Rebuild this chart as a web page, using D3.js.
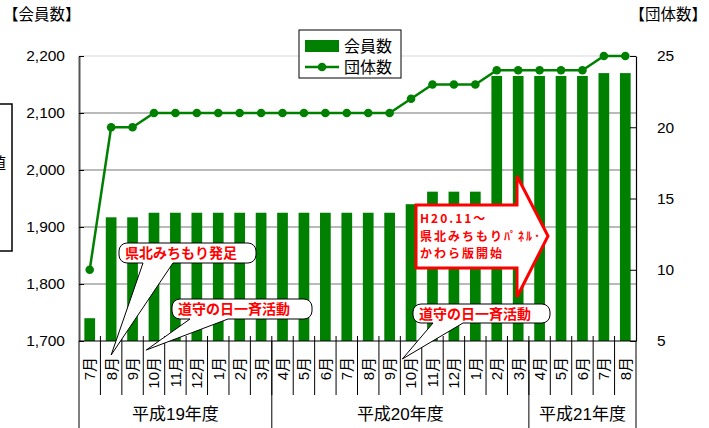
<!DOCTYPE html>
<html>
<head>
<meta charset="utf-8">
<script src="https://cdn.jsdelivr.net/npm/d3@7"></script>
<style>
  body { margin: 0; background: #fff; }
  svg { display: block; font-family: "Liberation Sans", "Noto Sans CJK JP", sans-serif; }
</style>
</head>
<body>
<div id="chart"></div>
<script>
// month labels (H19.7 - H21.8)
const months = ['7月', '8月', '9月', '10月', '11月', '12月', '1月', '2月', '3月',
  '4月', '5月', '6月', '7月', '8月', '9月', '10月', '11月', '12月', '1月', '2月', '3月',
  '4月', '5月', '6月', '7月', '8月'];
// 会員数 (left axis)
const members = [1740, 1917, 1917, 1925, 1925, 1925, 1925, 1925, 1925,
  1925, 1925, 1925, 1925, 1925, 1925, 1940, 1962, 1962, 1962, 2165, 2165,
  2165, 2165, 2165, 2170, 2170];
// 団体数 (right axis)
const groups = [10, 20, 20, 21, 21, 21, 21, 21, 21,
  21, 21, 21, 21, 21, 21, 22, 23, 23, 23, 24, 24,
  24, 24, 24, 25, 25];
const fyLabels = ['平成19年度', '平成20年度', '平成21年度'];
const fyMonths = [9, 12, 5];
const leftTicks = [1700, 1800, 1900, 2000, 2100, 2200];
const rightTicks = [5, 10, 15, 20, 25];

const W = 709, H = 428;
const m = {left: 79, right: 636, top: 56, bottom: 341};
const green = '#008000';

const svg = d3.select('#chart').append('svg')
  .attr('width', W).attr('height', H);

const idx = d3.range(months.length);
const x = d3.scaleBand().domain(idx).range([m.left, m.right]).padding(0);
const yL = d3.scaleLinear().domain([1700, 2200]).range([m.bottom, m.top]);
const yR = d3.scaleLinear().domain([5, 25]).range([m.bottom, m.top]);
const cx = i => x(i) + x.bandwidth() / 2;

// gridlines
svg.append('g').selectAll('line')
  .data(leftTicks.slice(1))
  .join('line')
  .attr('x1', m.left).attr('x2', m.right)
  .attr('y1', d => yL(d)).attr('y2', d => yL(d))
  .attr('stroke', d => d === 2200 ? '#d8d8d8' : '#777')
  .attr('stroke-width', 1.2);

// bars
const bw = x.bandwidth() * 0.5;
svg.append('g').selectAll('rect')
  .data(members)
  .join('rect')
  .attr('x', (d, i) => cx(i) - bw / 2)
  .attr('y', d => yL(d))
  .attr('width', bw)
  .attr('height', d => yL(1700) - yL(d))
  .attr('fill', green);

// left axis
const axL = svg.append('g').attr('transform', `translate(${m.left},0)`)
  .call(d3.axisLeft(yL).tickValues(leftTicks).tickSizeInner(-5).tickSizeOuter(0)
    .tickFormat(d3.format(',')).tickPadding(14));
axL.select('.domain').attr('stroke', '#555').attr('stroke-width', 2);
axL.selectAll('.tick line').attr('stroke', '#000');
axL.selectAll('text').attr('font-size', 15.5).attr('fill', '#000');

// right axis
const axR = svg.append('g').attr('transform', `translate(${m.right},0)`)
  .call(d3.axisRight(yR).tickValues(rightTicks).tickSizeInner(-6).tickSizeOuter(0).tickPadding(21));
axR.select('.domain').attr('stroke', '#000').attr('stroke-width', 1.2);
axR.selectAll('.tick line').attr('stroke', '#000');
axR.selectAll('text').attr('font-size', 15.5).attr('fill', '#000');

// bottom axis line + category separators
svg.append('line').attr('x1', m.left).attr('x2', m.right)
  .attr('y1', m.bottom).attr('y2', m.bottom).attr('stroke', '#000').attr('stroke-width', 1.2);
svg.append('g').selectAll('line')
  .data(idx.slice(1))
  .join('line')
  .attr('x1', d => x(d)).attr('x2', d => x(d))
  .attr('y1', m.bottom - 5).attr('y2', 395)
  .attr('stroke', '#000').attr('stroke-width', 1);

// fiscal-year boundaries
const fyStart = d3.cumsum([0].concat(fyMonths));
svg.append('g').selectAll('line')
  .data(fyStart)
  .join('line')
  .attr('x1', d => d < months.length ? x(d) : m.right)
  .attr('x2', d => d < months.length ? x(d) : m.right)
  .attr('y1', m.bottom).attr('y2', H)
  .attr('stroke', '#000').attr('stroke-width', 1);

// month labels (rotated)
svg.append('g').selectAll('text')
  .data(months)
  .join('text')
  .attr('transform', (d, i) => `translate(${cx(i)},357) rotate(-90)`)
  .attr('text-anchor', 'end')
  .attr('dy', '0.36em')
  .attr('font-size', 15)
  .text(d => d);

// fiscal-year labels
svg.append('g').selectAll('text')
  .data(fyLabels)
  .join('text')
  .attr('x', (d, i) => {
    const a = x(fyStart[i]);
    const b = fyStart[i + 1] < months.length ? x(fyStart[i + 1]) : m.right;
    return (a + b) / 2;
  })
  .attr('y', 420)
  .attr('text-anchor', 'middle')
  .attr('font-size', 17)
  .text(d => d);

// line series
svg.append('path')
  .datum(groups)
  .attr('fill', 'none')
  .attr('stroke', green)
  .attr('stroke-width', 2.5)
  .attr('d', d3.line().x((d, i) => cx(i)).y(d => yR(d)));
svg.append('g').selectAll('circle')
  .data(groups)
  .join('circle')
  .attr('cx', (d, i) => cx(i))
  .attr('cy', d => yR(d))
  .attr('r', 4.3)
  .attr('fill', green);

// axis titles
svg.append('text').attr('x', 3).attr('y', 20).attr('font-size', 15.5).text('【会員数】');
svg.append('text').attr('x', 707).attr('y', 20).attr('text-anchor', 'end').attr('font-size', 15.5).text('【団体数】');

// legend
const lg = svg.append('g');
lg.append('rect').attr('x', 299).attr('y', 30).attr('width', 102).attr('height', 48)
  .attr('fill', '#fff').attr('stroke', '#000').attr('stroke-width', 1);
lg.append('rect').attr('x', 305).attr('y', 40).attr('width', 34).attr('height', 12).attr('fill', green);
lg.append('line').attr('x1', 305).attr('x2', 339).attr('y1', 67).attr('y2', 67)
  .attr('stroke', green).attr('stroke-width', 2.5);
lg.append('circle').attr('cx', 322).attr('cy', 67).attr('r', 4.3).attr('fill', green);
lg.append('text').attr('x', 344).attr('y', 46).attr('dy', '0.36em').attr('font-size', 16).text('会員数');
lg.append('text').attr('x', 344).attr('y', 67).attr('dy', '0.36em').attr('font-size', 16).text('団体数');

// clipped box at the left edge
svg.append('rect').attr('x', -20).attr('y', 104).attr('width', 32).attr('height', 147)
  .attr('fill', 'none').attr('stroke', '#000').attr('stroke-width', 1.5);
svg.append('text').attr('x', 6).attr('y', 169).attr('text-anchor', 'end')
  .attr('font-size', 16).text('値');

// speech-bubble callouts
function bubble(bx, by, bwid, bh, tipX, tipY, b1, b2, label) {
  const g = svg.append('g');
  const r = 8;
  const p = d3.path();
  p.moveTo(bx + r, by);
  p.lineTo(bx + bwid - r, by);
  p.arcTo(bx + bwid, by, bx + bwid, by + r, r);
  p.lineTo(bx + bwid, by + bh - r);
  p.arcTo(bx + bwid, by + bh, bx + bwid - r, by + bh, r);
  p.lineTo(b2, by + bh);
  p.lineTo(tipX, tipY);
  p.lineTo(b1, by + bh);
  p.lineTo(bx + r, by + bh);
  p.arcTo(bx, by + bh, bx, by + bh - r, r);
  p.lineTo(bx, by + r);
  p.arcTo(bx, by, bx + r, by, r);
  p.closePath();
  g.append('path').attr('d', p.toString())
    .attr('fill', '#fff').attr('stroke', '#000').attr('stroke-width', 1);
  g.append('text').attr('x', bx + 6).attr('y', by + bh / 2).attr('dy', '0.36em')
    .attr('font-size', 14).attr('font-weight', 'bold').attr('fill', '#ff0000')
    .attr('font-family', '"Noto Sans CJK JP", sans-serif')
    .text(label);
}
bubble(119, 243, 137, 20, cx(1), 355, 143, 173, '県北みちもり発足');
bubble(172, 299, 140, 20, x(3) + 3, 350, 190, 228, '道守の日一斉活動');
bubble(413, 304, 137, 19, x(15) + 2, 359, 433, 463, '道守の日一斉活動');

// arrow callout
const ar = svg.append('g');
ar.append('path')
  .attr('d', 'M416,205 L517,205 L517,176 L548,236 L517,297 L517,268 L416,268 Z')
  .attr('fill', '#fff').attr('stroke', '#ff0000').attr('stroke-width', 3)
  .attr('stroke-linejoin', 'miter');
const arText = ['H20.11～', '県北みちもりﾊﾟﾈﾙ･', 'かわら版開始'];
ar.selectAll('text').data(arText).join('text')
  .attr('x', 420).attr('y', (d, i) => 219 + i * 17.5).attr('dy', '0.36em')
  .attr('font-size', 12).attr('font-weight', 'bold').attr('fill', '#ff0000')
  .attr('letter-spacing', 2)
  .attr('font-family', '"Noto Sans CJK JP", sans-serif')
  .text(d => d);
</script>
</body>
</html>
